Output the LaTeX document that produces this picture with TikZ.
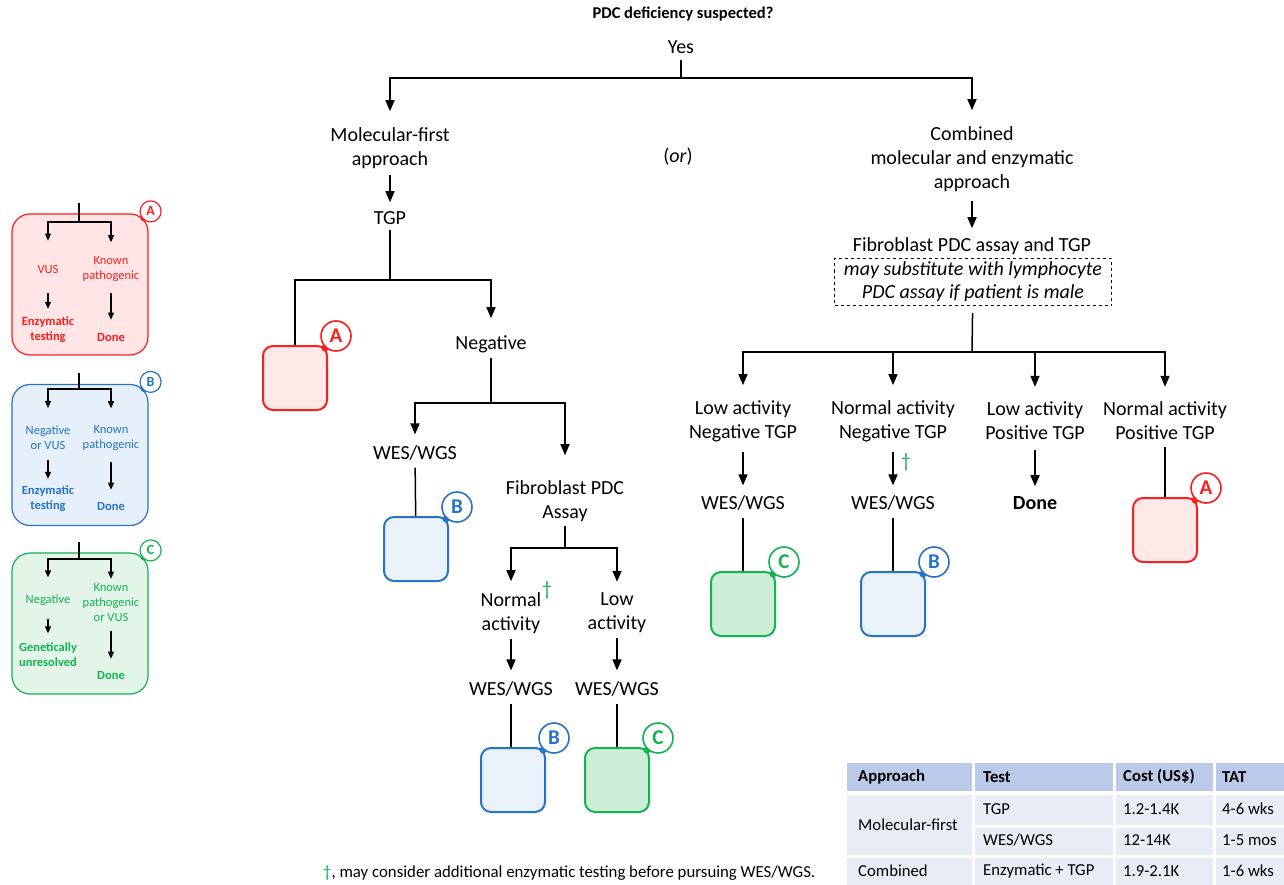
\documentclass[tikz,border=0pt]{standalone}
\usepackage{fontspec}
\setmainfont{Carlito}
\usetikzlibrary{arrows.meta,positioning}

\definecolor{redline}{RGB}{250,30,30}
\definecolor{redfill}{RGB}{255,232,232}
\definecolor{redpale}{RGB}{255,229,229}
\definecolor{blueline}{RGB}{40,115,195}
\definecolor{bluefill}{RGB}{233,241,250}
\definecolor{bluepale}{RGB}{230,240,250}
\definecolor{greenline}{RGB}{20,178,80}
\definecolor{greenfill}{RGB}{204,238,214}
\definecolor{greenpale}{RGB}{226,245,232}
\definecolor{headfill}{RGB}{186,202,232}
\definecolor{cellfill}{RGB}{232,236,245}

\tikzset{
  lbl/.style={align=center, inner sep=0pt, font=\fontsize{20}{24}\selectfont},
  small/.style={align=center, inner sep=0pt, font=\fontsize{12.5}{15}\selectfont},
  link/.style={line width=1.5pt},
  arr/.style={link, -{Triangle[width=9pt,length=11pt]}},
  larr/.style={line width=1.2pt, -{Triangle[width=6pt,length=7pt]}},
  outbox/.style={draw=#1line, fill=#1fill, line width=2pt, rounded corners=10pt, minimum size=64pt, inner sep=0pt},
  badge/.style={circle, draw=#1line, fill=white, text=#1line, line width=1.6pt, minimum size=30pt, inner sep=0pt, font=\bfseries\fontsize{21}{21}\selectfont},
  legbox/.style={draw=#1line, fill=#1pale, line width=1.2pt, rounded corners=18pt, minimum width=136pt, minimum height=141pt, inner sep=0pt},
  legbadge/.style={circle, draw=#1line, fill=white, text=#1line, line width=1.2pt, minimum size=21pt, inner sep=0pt, font=\bfseries\fontsize{14}{14}\selectfont},
  tab/.style={anchor=west, inner sep=0pt, font=\fontsize{16.7}{19}\selectfont},
}

\begin{document}
\begin{tikzpicture}[x=1pt,y=-1pt]
\useasboundingbox (0,0) rectangle (1284,885);

% legend boxes
\node[legbox=red] (lA) at (80,284.5) {};
\fill[redline] ([shift={(-5,5)}]lA.north east) circle (3pt);
\node[legbadge=red] (lbA) at ([shift={(2,-2)}]lA.north east) {A};
\coordinate (lAtop) at (79,203);
\coordinate (lAj) at (79,222);
\node[small, text=redline] (lAvus) at (48,269) {VUS};
\node[small, text=redline] (lAknown) at (111,269) {Known\\pathogenic};
\node[small, text=redline, font=\bfseries\fontsize{12.5}{15}\selectfont] (lAenz) at (48,330) {Enzymatic\\testing};
\node[small, text=redline, font=\bfseries\fontsize{12.5}{15}\selectfont] (lAdone) at (111,337) {Done};
\draw[link, line width=1.2pt] (lAtop) -- (lAj);
\draw[larr, shorten >=24pt] (lAj) -| (lAvus);
\draw[larr, shorten >=14pt] (lAj) -| (lAknown);
\draw[larr, shorten <=20pt, shorten >=8pt] (lAvus) -- (lAenz);
\draw[larr, shorten <=11pt, shorten >=13pt] (lAknown) -- (lAdone);

\node[legbox=blue] (lB) at (80,455) {};
\fill[blueline] ([shift={(-5,5)}]lB.north east) circle (3pt);
\node[legbadge=blue] (lbB) at ([shift={(2,-2)}]lB.north east) {B};
\coordinate (lBtop) at (79,373);
\coordinate (lBj) at (79,389);
\node[small, text=blueline] (lBneg) at (48,438) {Negative\\or VUS};
\node[small, text=blueline] (lBknown) at (111,438) {Known\\pathogenic};
\node[small, text=blueline, font=\bfseries\fontsize{12.5}{15}\selectfont] (lBenz) at (48,499) {Enzymatic\\testing};
\node[small, text=blueline, font=\bfseries\fontsize{12.5}{15}\selectfont] (lBdone) at (111,506) {Done};
\draw[link, line width=1.2pt] (lBtop) -- (lBj);
\draw[larr, shorten >=18pt] (lBj) -| (lBneg);
\draw[larr, shorten >=17pt] (lBj) -| (lBknown);
\draw[larr, shorten <=10pt, shorten >=7pt] (lBneg) -- (lBenz);
\draw[larr, shorten <=11pt, shorten >=12pt] (lBknown) -- (lBdone);

\node[legbox=green] (lC) at (80,623.5) {};
\fill[greenline] ([shift={(-5,5)}]lC.north east) circle (3pt);
\node[legbadge=green] (lbC) at ([shift={(2,-2)}]lC.north east) {C};
\coordinate (lCtop) at (79,542);
\coordinate (lCj) at (79,559);
\node[small, text=greenline] (lCneg) at (48,600) {Negative};
\node[small, text=greenline] (lCknown) at (111,603) {Known\\pathogenic\\or VUS};
\node[small, text=greenline, font=\bfseries\fontsize{12.5}{15}\selectfont] (lCgen) at (48,654.5) {Genetically\\unresolved};
\node[small, text=greenline, font=\bfseries\fontsize{12.5}{15}\selectfont] (lCdone) at (111,675) {Done};
\draw[link, line width=1.2pt] (lCtop) -- (lCj);
\draw[larr, shorten >=17pt] (lCj) -| (lCneg);
\draw[larr, shorten >=5pt] (lCj) -| (lCknown);
\draw[larr, shorten <=13pt, shorten >=9pt] (lCneg) -- (lCgen);
\draw[larr, shorten <=9pt, shorten >=12pt] (lCknown) -- (lCdone);

% top of the tree
\node[lbl, font=\bfseries\fontsize{16.5}{24}\selectfont] (title) at (683,14) {PDC deficiency suspected?};
\node[lbl] (yes) at (681,47) {Yes};
\coordinate (jyes) at (681,78);
\node[lbl] (molfirst) at (390,148) {Molecular-first\\approach};
\node[lbl] (orword) at (678,157) {(\textit{or})};
\node[lbl] (combined) at (972,159) {Combined\\molecular and enzymatic\\approach};
\draw[link, shorten <=6pt] (yes) -- (jyes);
\draw[arr, shorten >=16pt] (jyes) -| (molfirst);
\draw[arr, shorten >=16pt] (jyes) -| (combined);

% molecular-first branch
\node[lbl] (tgp) at (390,218) {TGP};
\coordinate (jtgp) at (390,280);
\draw[arr, shorten <=6pt, shorten >=9pt] (molfirst) -- (tgp);
\draw[link, shorten <=5pt] (tgp) -- (jtgp);
\node[outbox=red] (mA1) at (295,378) {};
\fill[redline] ([shift={(-3,3)}]mA1.north east) circle (3.5pt);
\node[badge=red] (bA1) at ([shift={(8,-9)}]mA1.north east) {A};
\draw[link] (jtgp) -| (mA1);
\node[lbl] (neg) at (491,344) {Negative};
\coordinate (jneg) at (491,403);
\draw[arr, shorten >=17pt] (jtgp) -| (neg);
\draw[link, shorten <=5pt] (neg) -- (jneg);
\node[lbl] (wes1) at (415,453) {WES/WGS};
\node[lbl] (fib) at (565,501) {Fibroblast PDC\\Assay};
\draw[arr, shorten >=11pt] (jneg) -| (wes1);
\draw[arr, shorten >=25pt] (jneg) -| (fib);
\node[outbox=blue] (mB1) at (416,549) {};
\fill[blueline] ([shift={(-3,3)}]mB1.north east) circle (3.5pt);
\node[badge=blue] (bB1) at ([shift={(8,-9)}]mB1.north east) {B};
\draw[link, shorten <=7pt] (wes1) -- (mB1);
\coordinate (jfib) at (565,548);
\draw[link, shorten <=4pt] (fib) -- (jfib);
\node[lbl] (normal) at (511,613) {Normal\\activity};
\node[lbl, text=greenline] (dag1) at (547,590) {†};
\node[lbl] (low) at (617,613) {Low\\activity};
\draw[arr, shorten >=11pt] (jfib) -| (normal);
\draw[arr, shorten >=11pt] (jfib) -| (low);
\node[lbl] (wes2) at (511,689) {WES/WGS};
\node[lbl] (wes3) at (617,689) {WES/WGS};
\draw[arr, shorten <=5pt, shorten >=11pt] (normal) -- (wes2);
\draw[arr, shorten <=5pt, shorten >=11pt] (low) -- (wes3);
\node[outbox=blue] (mB2) at (513,780) {};
\fill[blueline] ([shift={(-3,3)}]mB2.north east) circle (3.5pt);
\node[badge=blue] (bB2) at ([shift={(8,-9)}]mB2.north east) {B};
\node[outbox=green] (mC1) at (617,780) {};
\fill[greenline] ([shift={(-3,3)}]mC1.north east) circle (3.5pt);
\node[badge=green] (bC1) at ([shift={(8,-9)}]mC1.north east) {C};
\draw[link, shorten <=7pt] (wes2) -- (wes2 |- mB2.north);
\draw[link, shorten <=7pt] (wes3) -- (mC1);

% combined branch
\node[lbl] (fibtgp) at (972,246) {Fibroblast PDC assay and TGP};
\node[lbl, draw, dashed, line width=1.2pt, minimum width=277pt, minimum height=47pt,
  font=\itshape\fontsize{20}{23}\selectfont] (lympho) at (973,282)
  {may substitute with lymphocyte\\PDC assay if patient is male};
\draw[arr, shorten <=9pt, shorten >=9pt] (combined) -- (fibtgp);
\coordinate (jcomb) at (972,352);
\draw[link, shorten <=7pt] (lympho) -- (jcomb);
\node[lbl] (r1) at (743,421) {Low activity\\Negative TGP};
\node[lbl] (r2) at (893,421) {Normal activity\\Negative TGP};
\node[lbl] (r3) at (1035,421) {Low activity\\Positive TGP};
\node[lbl] (r4) at (1165,421) {Normal activity\\Positive TGP};
\foreach \n in {r1,r2,r3,r4}
  \draw[arr, shorten >=15pt] (jcomb) -| (\n);
\node[lbl] (wes4) at (743,503) {WES/WGS};
\node[lbl] (wes5) at (893,503) {WES/WGS};
\node[lbl, font=\bfseries\fontsize{20}{24}\selectfont] (done) at (1035,503) {Done};
\draw[arr, shorten <=10pt, shorten >=10pt] (r1) -- (wes4);
\draw[arr, shorten <=10pt, shorten >=10pt] (r2) -- (wes5);
\draw[arr, shorten <=10pt, shorten >=10pt] (r3) -- (done);
\node[lbl, text=greenline] (dag2) at (906,462) {†};
\node[outbox=green] (mC2) at (743,604) {};
\fill[greenline] ([shift={(-3,3)}]mC2.north east) circle (3.5pt);
\node[badge=green] (bC2) at ([shift={(8,-9)}]mC2.north east) {C};
\node[outbox=blue] (mB3) at (893,604) {};
\fill[blueline] ([shift={(-3,3)}]mB3.north east) circle (3.5pt);
\node[badge=blue] (bB3) at ([shift={(8,-9)}]mB3.north east) {B};
\node[outbox=red] (mA2) at (1165,530) {};
\fill[redline] ([shift={(-3,3)}]mA2.north east) circle (3.5pt);
\node[badge=red] (bA2) at ([shift={(8,-9)}]mA2.north east) {A};
\draw[link, shorten <=7pt] (wes4) -- (mC2);
\draw[link, shorten <=7pt] (wes5) -- (mB3);
\draw[link, shorten <=7pt] (r4) -- (mA2);

% footnote
\node[tab, font=\fontsize{16.8}{19}\selectfont] (note) at (323,873)
  {\textcolor{greenline}{†}, may consider additional enzymatic testing before pursuing WES/WGS.};

% cost table
\foreach \xa/\xb in {847/972,975/1113,1116/1213,1216/1284} {
  \fill[headfill] (\xa,763) rectangle (\xb,791);
  \fill[cellfill] (\xa,858) rectangle (\xb,885);
}
\foreach \xa/\xb in {975/1113,1116/1213,1216/1284} {
  \fill[cellfill] (\xa,795) rectangle (\xb,825);
  \fill[cellfill] (\xa,828) rectangle (\xb,855);
}
\fill[cellfill] (847,795) rectangle (972,855);
\node[tab, font=\bfseries\fontsize{16.7}{19}\selectfont] (hAppr) at (858,777) {Approach};
\node[tab, font=\bfseries\fontsize{16.7}{19}\selectfont] (hTest) at (983,777) {Test};
\node[tab, font=\bfseries\fontsize{16.7}{19}\selectfont] (hCost) at (1123,777) {Cost (US\$)};
\node[tab, font=\bfseries\fontsize{16.7}{19}\selectfont] (hTat) at (1222,777) {TAT};
\node[tab] (cMol) at (858,825) {Molecular-first};
\node[tab] (cTgp) at (983,809) {TGP};
\node[tab] (cTgpCost) at (1123,809) {1.2-1.4K};
\node[tab] (cTgpTat) at (1222,809) {4-6 wks};
\node[tab] (cWes) at (983,840) {WES/WGS};
\node[tab] (cWesCost) at (1123,840) {12-14K};
\node[tab] (cWesTat) at (1222,840) {1-5 mos};
\node[tab] (cComb) at (858,871) {Combined};
\node[tab] (cEnz) at (983,871) {Enzymatic + TGP};
\node[tab] (cEnzCost) at (1123,871) {1.9-2.1K};
\node[tab] (cEnzTat) at (1222,871) {1-6 wks};
\end{tikzpicture}
\end{document}
